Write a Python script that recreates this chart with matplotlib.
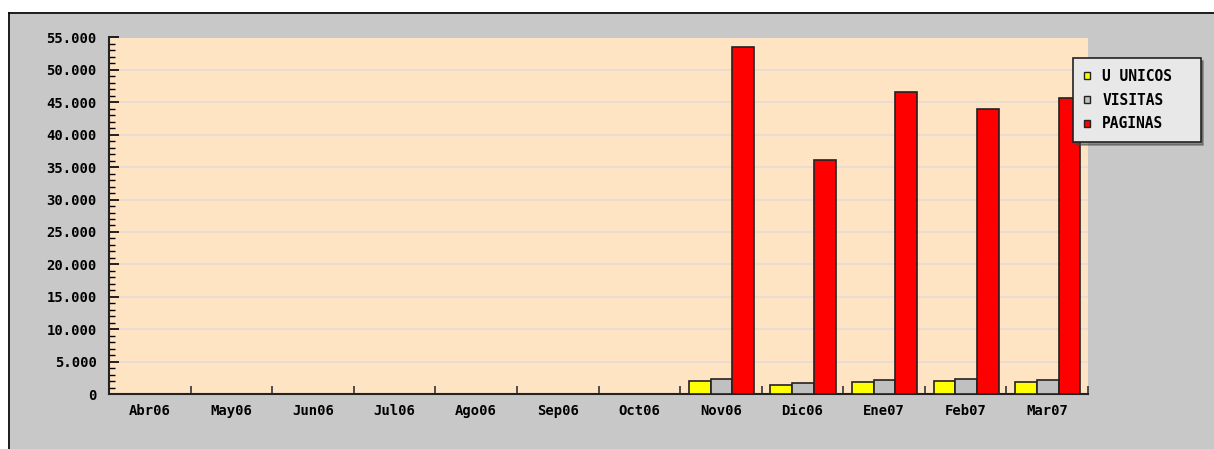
import numpy as np
import matplotlib.pyplot as plt
from matplotlib.patches import Rectangle
from matplotlib.ticker import MultipleLocator, FuncFormatter

# datos mensuales
meses = ['Abr06', 'May06', 'Jun06', 'Jul06', 'Ago06', 'Sep06',
         'Oct06', 'Nov06', 'Dic06', 'Ene07', 'Feb07', 'Mar07']
u_unicos = [0, 0, 0, 0, 0, 0, 0, 2050, 1390, 1800, 2050, 1800]
visitas = [0, 0, 0, 0, 0, 0, 0, 2360, 1650, 2210, 2360, 2210]
paginas = [0, 0, 0, 0, 0, 0, 0, 53600, 36100, 46550, 44000, 45730]

W, H = 1214, 449
fig = plt.figure(figsize=(W / 100, H / 100), dpi=100)
fig.patch.set_facecolor('white')

# fondo gris con borde negro arriba e izquierda
fig.patches.append(Rectangle((8 / W, 0), 1, 1 - 12 / H, transform=fig.transFigure,
                             facecolor='#c8c8c8', edgecolor='none', zorder=-10))
fig.lines.append(plt.Line2D([8.5 / W, 8.5 / W], [0, 1 - 12.5 / H], transform=fig.transFigure,
                            color='black', lw=1.2, zorder=-9))
fig.lines.append(plt.Line2D([8.5 / W, 1], [1 - 12.5 / H, 1 - 12.5 / H], transform=fig.transFigure,
                            color='black', lw=1.2, zorder=-9))

left, right, top, bottom = 109, 1088, 37.5, 394
ax = fig.add_axes([left / W, 1 - bottom / H, (right - left) / W, (bottom - top) / H])
ax.set_facecolor('#ffe4c4')

x = np.arange(len(meses))
bw = 0.266
off = -0.5 + 8.8 / 81.5
ax.bar(x + off, u_unicos, bw, align='edge', color='#ffff00', edgecolor='#222222', lw=1.2, zorder=3)
ax.bar(x + off + bw, visitas, bw, align='edge', color='#c0c0c0', edgecolor='#222222', lw=1.2, zorder=3)
ax.bar(x + off + 2 * bw, paginas, bw, align='edge', color='#ff0000', edgecolor='#222222', lw=1.2, zorder=3)

ax.set_xlim(-0.5, len(meses) - 0.5)
ax.set_ylim(0, 55000)
ax.yaxis.set_major_locator(MultipleLocator(5000))
ax.yaxis.set_minor_locator(MultipleLocator(1000))
ax.yaxis.set_major_formatter(FuncFormatter(lambda v, p: f'{int(v):,}'.replace(',', '.')))
ax.grid(axis='y', color='#eadcd0', lw=1.5, zorder=1)

ax.set_xticks(x)
ax.set_xticklabels(meses)
ax.set_xticks(np.arange(len(meses)) + 0.5, minor=True)
ax.tick_params(axis='x', which='major', length=0, pad=7)
ax.tick_params(axis='x', which='minor', direction='in', length=6, width=1.2, color='#333333')
ax.tick_params(axis='y', which='major', direction='in', length=7, width=1.2, pad=9)
ax.tick_params(axis='y', which='minor', direction='in', length=4, width=1)

for lab in ax.get_xticklabels() + ax.get_yticklabels():
    lab.set_fontfamily('DejaVu Sans Mono')
    lab.set_fontweight('bold')
    lab.set_fontsize(10)

for s in ['top', 'right']:
    ax.spines[s].set_visible(False)
for s in ['left', 'bottom']:
    ax.spines[s].set_linewidth(1.5)
    ax.spines[s].set_color('#222222')

# leyenda
h = [Rectangle((0, 0), 1, 1, facecolor=c, edgecolor='#222222', lw=1) for c in ['#ffff00', '#c0c0c0', '#ff0000']]
leg = fig.legend(h, ['U UNICOS  ', 'VISITAS', 'PAGINAS'], loc='upper left',
                 bbox_to_anchor=(1073 / W, 1 - 58 / H), frameon=True, fancybox=False,
                 shadow=True, handlelength=0.4, handleheight=0.4, handletextpad=0.85,
                 labelspacing=0.6, borderpad=0.75, borderaxespad=0,
                 prop={'family': 'DejaVu Sans Mono', 'weight': 'bold', 'size': 10.5})
leg.get_frame().set_facecolor('#e8e8e8')
leg.get_frame().set_edgecolor('#222222')
leg.get_frame().set_linewidth(1.2)
leg.get_frame().set_alpha(1)
leg.set_zorder(10)

fig.savefig('out.png', dpi=100)
